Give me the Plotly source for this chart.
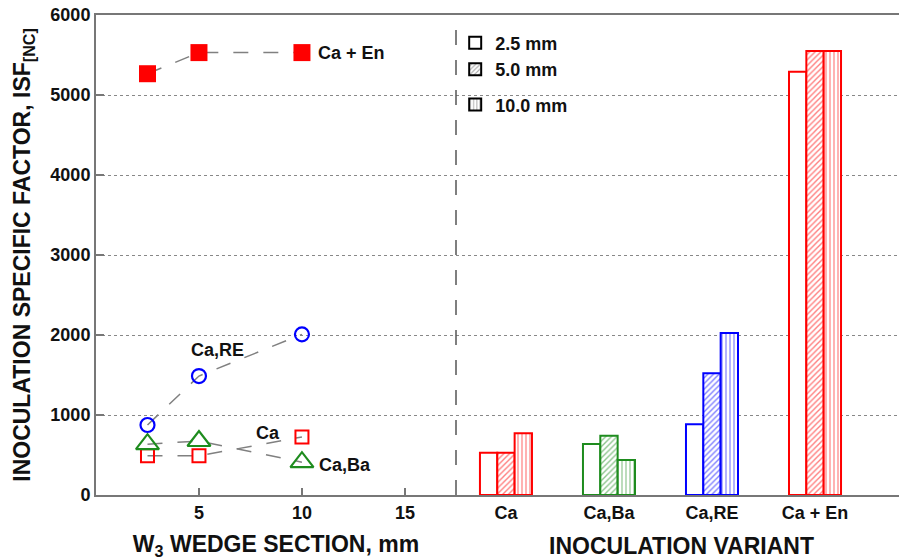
import plotly.graph_objects as go

# ---- data: left panel (ISF vs wedge section) ----
wedge_mm = [2.5, 5, 10]
ca_en_pts = [5266, 5530, 5530]
ca_re_pts = [875, 1487, 2008]
ca_pts = [490, 490, 725]
ca_ba_pts = [635, 675, 410]

# ---- data: right panel (ISF by inoculation variant) ----
variants = ["Ca", "Ca,Ba", "Ca,RE", "Ca + En"]
variant_colors = ["#ff0000", "#1e8c1e", "#0000ff", "#ff0000"]
bars_2_5 = [529, 637, 883, 5290]
bars_5_0 = [529, 742, 1521, 5550]
bars_10_0 = [771, 437, 2025, 5550]
section_names = ["2.5 mm", "5.0 mm", "10.0 mm"]

left_ticks = [5, 10, 15]
y_ticks = [0, 1000, 2000, 3000, 4000, 5000, 6000]

FONT = "Arial, Liberation Sans, sans-serif"
AXIS_GRAY = "#777777"
DASH_GRAY = "#808080"

fig = go.Figure()

# left panel series
series = [
    (ca_en_pts, "Ca + En", dict(symbol="square", size=17, color="#ff0000",
                                line=dict(width=0))),
    (ca_re_pts, "Ca,RE", dict(symbol="circle-open", size=14, color="#0000ff",
                              line=dict(width=2.2))),
    (ca_pts, "Ca", dict(symbol="square-open", size=13, color="#ff0000",
                        line=dict(width=2))),
    (ca_ba_pts, "Ca,Ba", dict(symbol="triangle-up-open", size=20, color="#1e8c1e",
                              line=dict(width=2.2))),
]
for vals, name, mk in series:
    fig.add_trace(go.Scatter(
        x=wedge_mm, y=vals, mode="lines+markers", name=name,
        line=dict(color=DASH_GRAY, width=1.5, dash="longdash"),
        marker=mk, showlegend=False, xaxis="x", yaxis="y"))

# right panel bars
patterns = [
    dict(shape=""),
    dict(shape="/", size=4, solidity=0.35),
    dict(shape="|", size=4, solidity=0.3),
]
for name, vals, pat in zip(section_names, [bars_2_5, bars_5_0, bars_10_0], patterns):
    p = dict(pat)
    if p["shape"]:
        p["fgcolor"] = variant_colors
        p["bgcolor"] = "white"
        p["fillmode"] = "overlay"
    fig.add_trace(go.Bar(
        x=list(range(len(variants))), y=vals, name=name,
        marker=dict(color="white", line=dict(color=variant_colors, width=2),
                    pattern=p),
        showlegend=False, xaxis="x2", yaxis="y2"))

# legend-only entries (black outline, gray patterns)
legend_groups = ["a", "a", "b"]
for name, pat, grp in zip(section_names, patterns, legend_groups):
    p = dict(pat)
    if p["shape"]:
        p["fgcolor"] = "#555555"
        p["bgcolor"] = "white"
        p["fillmode"] = "overlay"
    fig.add_trace(go.Bar(
        x=[None], y=[None], name=name, legendgroup=grp,
        marker=dict(color="white", line=dict(color="black", width=2), pattern=p),
        showlegend=True, xaxis="x", yaxis="y"))

# page has an 8px body margin; figure is sized to fill the 907x560 window
W, H = 899, 552
ML, MR, MT, MB = 88, 0, 7, 65
plot_w = W - ML - MR
split = (448 - ML) / plot_w

tickfont = dict(family=FONT, size=18, color="#111111", weight="bold")
titlefont = dict(family=FONT, size=23, color="#111111", weight="bold")

fig.update_layout(
    width=W, height=H,
    margin=dict(l=ML, r=MR, t=MT, b=MB, autoexpand=False),
    paper_bgcolor="white", plot_bgcolor="white",
    barmode="group", bargap=0.495, bargroupgap=0,
    font=dict(family=FONT, color="#111111"),
    showlegend=True,
    legend=dict(x=split - 0.001, y=0.98, xanchor="left", yanchor="top",
                bgcolor="rgba(255,255,255,0)",
                font=dict(family=FONT, size=18, color="#111111", weight="bold"),
                traceorder="grouped", itemwidth=30, tracegroupgap=9),
    xaxis=dict(domain=[0, split], range=[0, 17.48], tickvals=left_ticks,
               ticks="inside", ticklen=7, tickcolor=AXIS_GRAY, tickwidth=1.5,
               showline=True, linecolor=AXIS_GRAY, linewidth=2, mirror=True,
               showgrid=False, zeroline=False, tickfont=tickfont, automargin=False,
               title=dict(text="W<sub>3</sub> WEDGE SECTION, mm", font=titlefont,
                          standoff=16)),
    yaxis=dict(range=[0, 6000], tickvals=y_ticks, ticks="inside", ticklen=8,
               tickcolor=AXIS_GRAY, tickwidth=1.5, automargin=False,
               ticklabeloverflow="allow",
               showline=True, linecolor=AXIS_GRAY, linewidth=2,
               showgrid=True, gridcolor="#888888", gridwidth=1.3, griddash="dot",
               zeroline=False, tickfont=tickfont,
               title=dict(text="INOCULATION SPECIFIC FACTOR, ISF<sub>[NC]</sub>",
                          font=titlefont, standoff=13)),
    xaxis2=dict(domain=[split, 1], range=[-0.485, 3.893],
                tickvals=list(range(len(variants))), ticktext=variants,
                ticks="", showline=True, linecolor=AXIS_GRAY, linewidth=2,
                mirror=True, showgrid=False, zeroline=False, tickfont=tickfont,
                anchor="y2", automargin=False,
                title=dict(text="INOCULATION VARIANT", font=titlefont, standoff=16)),
    yaxis2=dict(matches="y", range=[0, 6000], tickvals=y_ticks, anchor="x2",
                showticklabels=False, ticks="", showline=False, automargin=False,
                showgrid=True, gridcolor="#888888", gridwidth=1.3, griddash="dot",
                zeroline=False),
)

# dashed separator between the two panels
fig.add_shape(type="line", xref="x2 domain", yref="y domain",
              x0=0, x1=0, y0=0, y1=1,
              line=dict(color="#555555", width=1.5, dash="longdash"))

# series labels in the left panel
labels = [
    ("Ca + En", 10.68, 5530, "left"),
    ("Ca,RE", 5.9, 1810, "center"),
    ("Ca", 8.33, 775, "center"),
    ("Ca,Ba", 10.73, 375, "left"),
]
for txt, xv, yv, anc in labels:
    fig.add_annotation(x=xv, y=yv, xref="x", yref="y", text=txt, showarrow=False,
                       xanchor=anc, yanchor="middle",
                       font=dict(family=FONT, size=18, color="#111111", weight="bold"))

fig.write_html("out.html")
